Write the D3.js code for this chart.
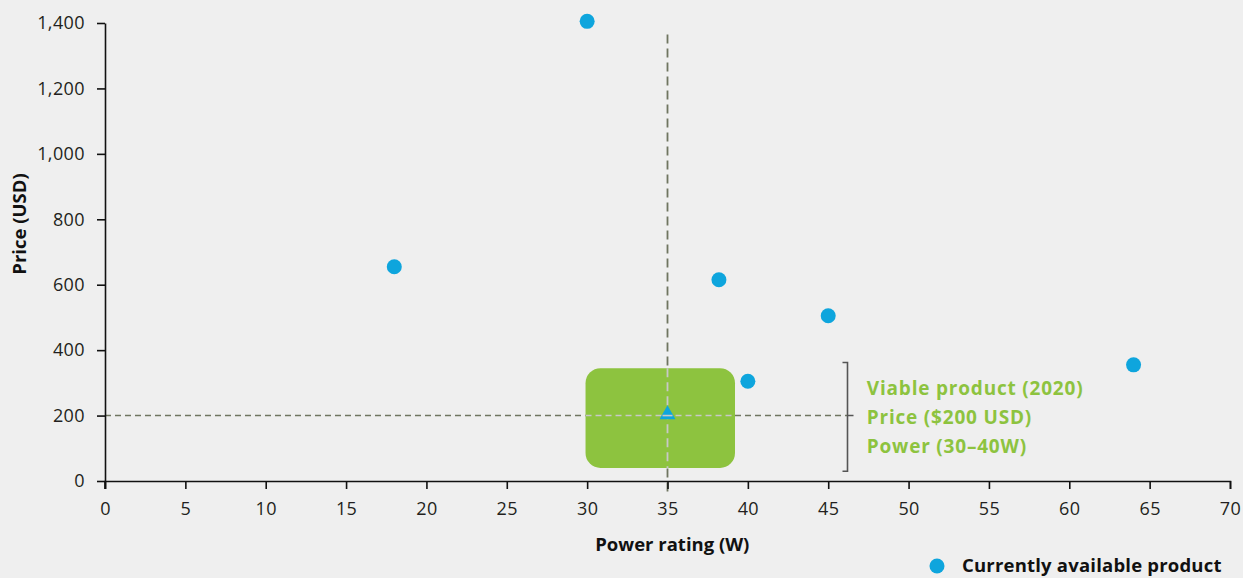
<!DOCTYPE html>
<html>
<head>
<meta charset="utf-8">
<script src="https://cdn.jsdelivr.net/npm/d3@7"></script>
<style>
  body { margin: 0; background: #efefef; }
  svg { display: block; font-family: "Open Sans", sans-serif; }
  .axis text { font-family: "Open Sans", sans-serif; font-weight: 400; font-size: 18px; letter-spacing: 0.4px; fill: #231f20; }
  .axis path, .axis line { stroke: #111; stroke-width: 1.6px; }
  .title { font-family: "Open Sans", sans-serif; font-weight: 700; font-size: 18.5px; fill: #111; }
  .viable { font-family: "Open Sans", sans-serif; font-weight: 700; font-size: 19px; letter-spacing: 0.8px; fill: #8dc33f; }
</style>
</head>
<body>
<svg id="chart" width="1243" height="578"></svg>
<script>
// products currently on the market
var powers = [18, 30, 38.2, 45, 40, 64];
var prices = [655, 1405, 615, 505, 305, 355];

// viable product target (2020)
var targetPower = 35, targetPrice = 200;
var viableRange = {x0: 29.9, x1: 39.2, y0: 40, y1: 345};
var viableLines = ["Viable product (2020)", "Price ($200 USD)", "Power (30\u201340W)"];

var xTicks = d3.range(0, 75, 5);
var yTicks = d3.range(0, 1600, 200);

var svg = d3.select("#chart");

var margin = {top: 23, right: 13, bottom: 97, left: 105},
    width = +svg.attr("width") - margin.left - margin.right,
    height = +svg.attr("height") - margin.top - margin.bottom;

var g = svg.append("g")
    .attr("transform", "translate(" + margin.left + "," + margin.top + ")");

var x = d3.scaleLinear().domain([0, 70]).range([0, width]);
var y = d3.scaleLinear().domain([0, 1400]).range([height, 0]);

// dashed guides through the target
g.append("line")
    .attr("x1", x(targetPower)).attr("x2", x(targetPower))
    .attr("y1", y(1365)).attr("y2", height + 12)
    .attr("stroke", "#6f7560").attr("stroke-width", 1.8)
    .attr("stroke-dasharray", "9,5");

g.append("line")
    .attr("x1", 0).attr("x2", x(46.2))
    .attr("y1", y(targetPrice)).attr("y2", y(targetPrice))
    .attr("stroke", "#6f7560").attr("stroke-width", 1.6)
    .attr("stroke-dasharray", "6,4");

// green viable box
g.append("rect")
    .attr("x", x(viableRange.x0))
    .attr("y", y(viableRange.y1))
    .attr("width", x(viableRange.x1) - x(viableRange.x0))
    .attr("height", y(viableRange.y0) - y(viableRange.y1))
    .attr("rx", 15).attr("ry", 15)
    .attr("fill", "#8dc33f");

// light guides over the box
g.append("line")
    .attr("x1", x(targetPower)).attr("x2", x(targetPower))
    .attr("y1", y(viableRange.y1)).attr("y2", y(viableRange.y0))
    .attr("stroke", "#c8c8c8").attr("stroke-width", 1.8)
    .attr("stroke-dasharray", "9,5");

g.append("line")
    .attr("x1", x(viableRange.x0)).attr("x2", x(viableRange.x1))
    .attr("y1", y(targetPrice)).attr("y2", y(targetPrice))
    .attr("stroke", "#c8c8c8").attr("stroke-width", 1.6)
    .attr("stroke-dasharray", "6,4");

// axes
g.append("g")
    .attr("class", "axis axis--x")
    .attr("transform", "translate(0," + height + ")")
    .call(d3.axisBottom(x).tickValues(xTicks).tickSize(8).tickSizeOuter(8).tickPadding(13));

g.append("g")
    .attr("class", "axis axis--y")
    .call(d3.axisLeft(y).tickValues(yTicks).tickSize(8).tickSizeOuter(0).tickPadding(12)
      .tickFormat(d3.format(",")));

// extend y axis line down to the x tick
g.append("line")
    .attr("x1", 0).attr("x2", 0).attr("y1", height).attr("y2", height + 8)
    .attr("stroke", "#111").attr("stroke-width", 1.6);

// target marker
g.append("path")
    .attr("d", d3.symbol().type(d3.symbolTriangle).size(110)())
    .attr("transform", "translate(" + x(targetPower) + "," + (y(targetPrice) - 1) + ")")
    .attr("fill", "#0ea5dd");

g.append("line")
    .attr("x1", x(targetPower) - 5).attr("x2", x(targetPower) + 5)
    .attr("y1", y(targetPrice)).attr("y2", y(targetPrice))
    .attr("stroke", "#c8c8c8").attr("stroke-width", 1.6);

// product dots
g.append("g").selectAll("circle")
    .data(powers)
  .enter().append("circle")
    .attr("cx", function(d) { return x(d); })
    .attr("cy", function(d, i) { return y(prices[i]); })
    .attr("r", 7.5)
    .attr("fill", "#0ea5dd");

// bracket
var bx = x(46.2), bTop = y(362), bBot = y(30);
g.append("path")
    .attr("d", "M" + (bx - 5) + "," + bTop + "H" + bx + "V" + bBot + "H" + (bx - 5)
      + "M" + bx + "," + y(targetPrice) + "H" + (bx + 6))
    .attr("fill", "none").attr("stroke", "#555").attr("stroke-width", 1.6);

var vt = g.append("text")
    .attr("class", "viable")
    .attr("x", x(47.4))
    .attr("y", y(targetPrice) - 26);

vt.selectAll("tspan")
    .data(viableLines)
  .enter().append("tspan")
    .attr("x", x(47.4))
    .attr("dy", function(d, i) { return i ? 29 : 0; })
    .attr("dominant-baseline", "middle")
    .text(function(d) { return d; });

// axis titles
g.append("text")
    .attr("class", "title")
    .attr("x", x(35.3))
    .attr("y", height + 70)
    .attr("text-anchor", "middle")
    .text("Power rating (W)");

svg.append("text")
    .attr("class", "title")
    .attr("transform", "translate(26,224) rotate(-90)")
    .attr("text-anchor", "middle")
    .text("Price (USD)");

// legend
var legend = svg.append("g").attr("transform", "translate(937,566)");
legend.append("circle").attr("r", 7.5).attr("fill", "#0ea5dd");
legend.append("text")
    .attr("class", "title")
    .attr("x", 25)
    .attr("dy", "0.3em")
    .style("font-size", "18.5px")
    .style("letter-spacing", "0.2px")
    .text("Currently available product");
</script>
</body>
</html>
